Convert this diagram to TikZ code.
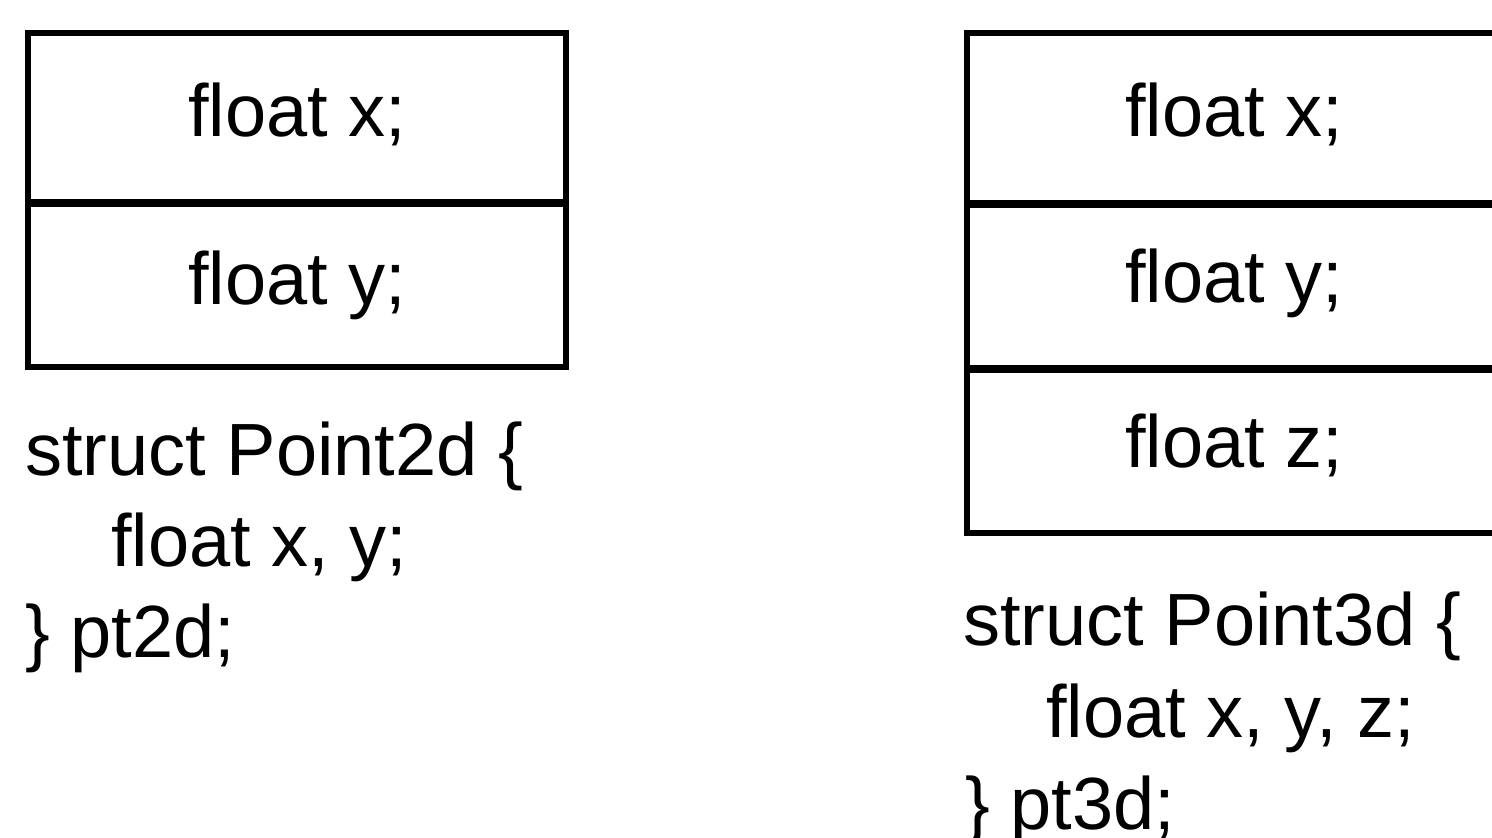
\documentclass[tikz,border=0pt]{standalone}
\usepackage{fontspec}
\setmainfont{Liberation Sans}
\begin{document}
\begin{tikzpicture}[x=0.5pt,y=-0.5pt,
  txt/.style={inner sep=0pt,anchor=base west,font=\fontsize{37}{44}\selectfont},
  celltxt/.style={inner sep=0pt,anchor=base,font=\fontsize{37}{44}\selectfont},
  outer/.style={line width=2.6pt,line join=miter},
  divider/.style={line width=4pt}]
\useasboundingbox (0,0) rectangle (1492,838);
\clip (0,0) rectangle (1492,838);
\fill[white] (0,0) rectangle (1492,838);
% left box
\coordinate (la) at (28,33);
\coordinate (lb) at (566,367);
\draw[outer] (la) rectangle (lb);
\coordinate (ld1) at (28,203);
\coordinate (ld1e) at (566,203);
\draw[divider] (ld1) -- (ld1e);
\node[celltxt] (lx) at (297,137) {float x;};
\node[celltxt] (ly) at (297,305) {float y;};
% right box
\coordinate (ra) at (967,33);
\coordinate (rb) at (1500,533);
\draw[outer] (ra) rectangle (rb);
\coordinate (rd1) at (967,204);
\coordinate (rd1e) at (1500,204);
\coordinate (rd2) at (967,369);
\coordinate (rd2e) at (1500,369);
\draw[divider] (rd1) -- (rd1e);
\draw[divider] (rd2) -- (rd2e);
\node[celltxt] (rx) at (1234,137) {float x;};
\node[celltxt] (ry) at (1234,303) {float y;};
\node[celltxt] (rz) at (1234,468) {float z;};
% left code
\node[txt] (l1) at (25,476) {struct Point2d \{};
\node[txt] (l2) at (111,567) {float x, y;};
\node[txt] (l3) at (25,657) {\} pt2d;};
% right code
\node[txt] (r1) at (963,645) {struct Point3d \{};
\node[txt] (r2) at (1046,737) {float x, y, z;};
\node[txt] (r3) at (965,829) {\} pt3d;};
\end{tikzpicture}
\end{document}
